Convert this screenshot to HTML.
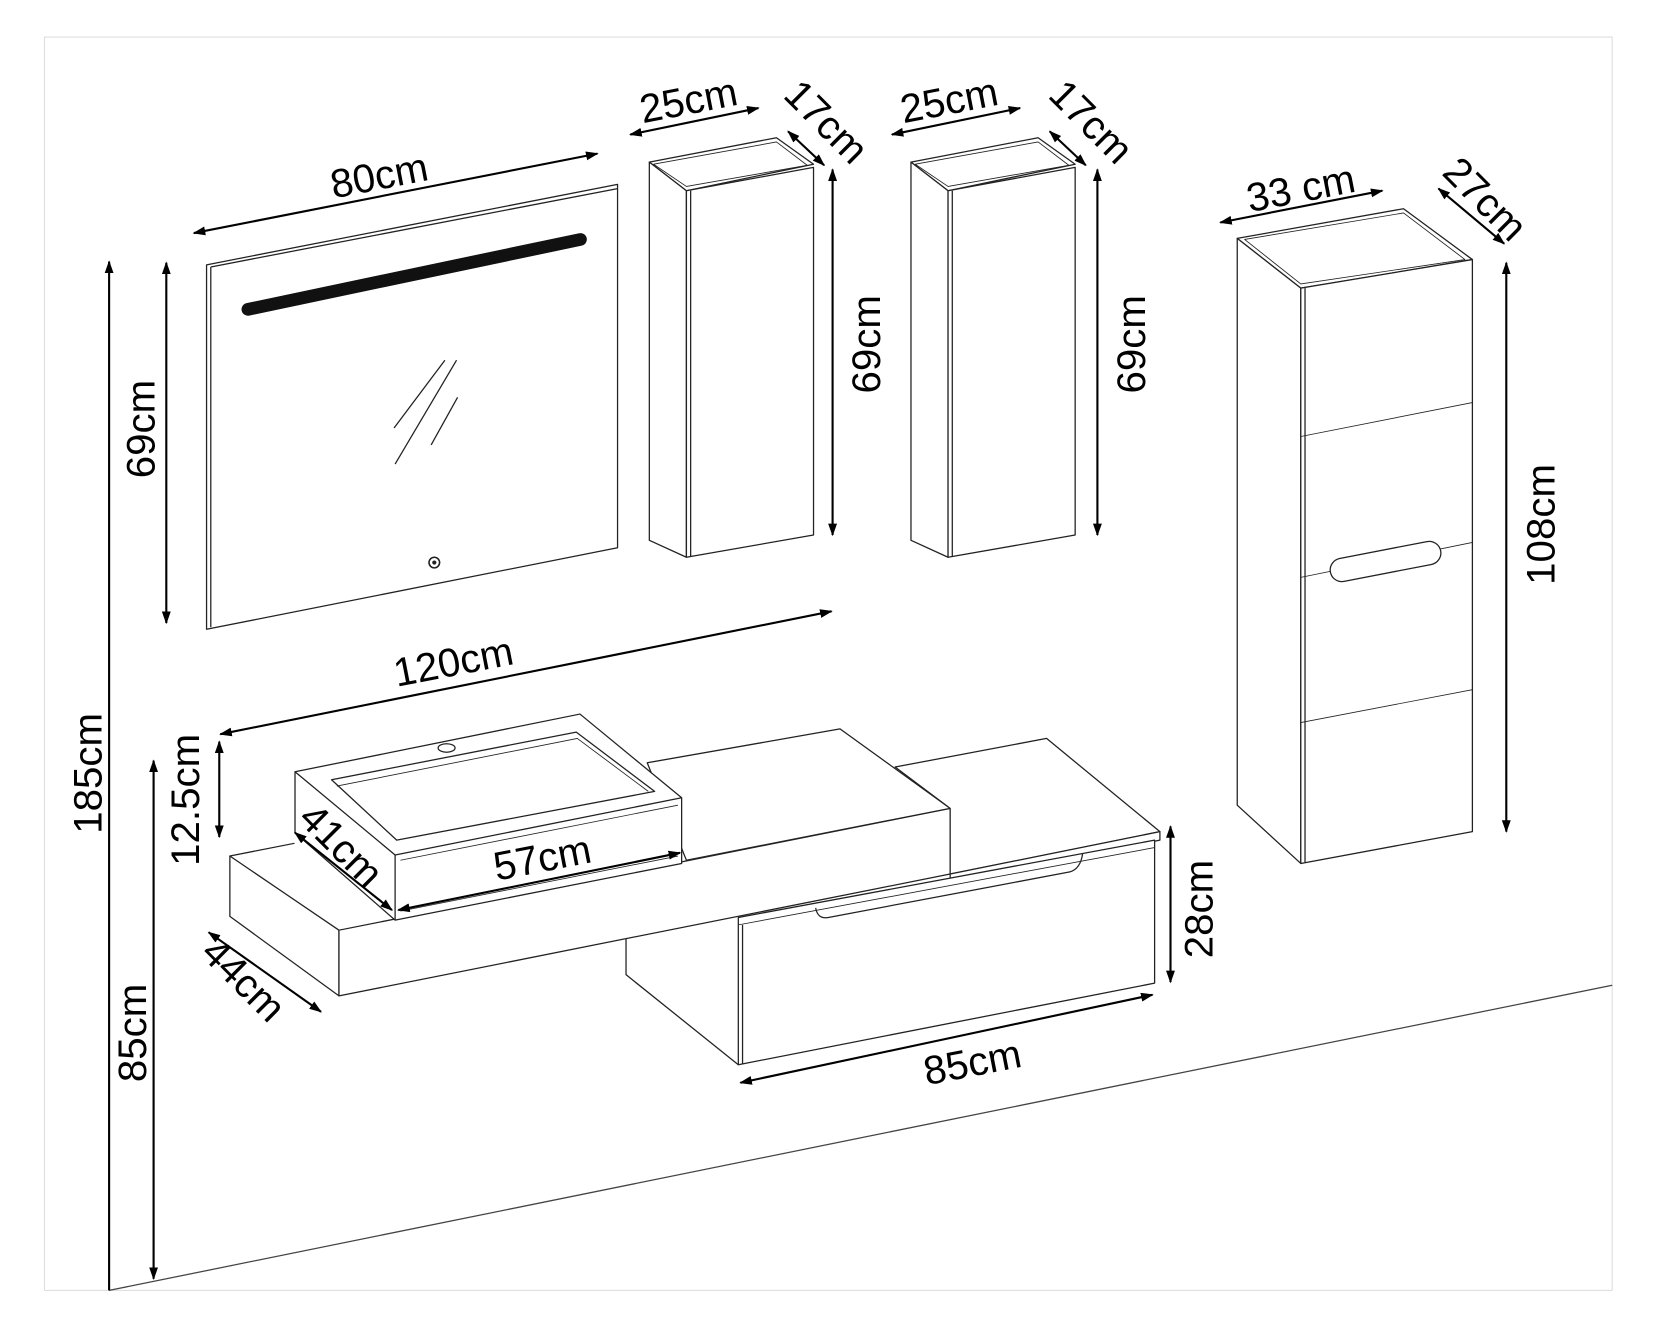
<!DOCTYPE html>
<html><head><meta charset="utf-8"><style>
html,body{margin:0;padding:0;background:#fff;}
svg{display:block}
text{font-family:"Liberation Sans",sans-serif;font-size:38px;fill:#000;}
</style></head><body>
<svg width="1653" height="1319" viewBox="0 0 1560.5 1245" preserveAspectRatio="none" xmlns="http://www.w3.org/2000/svg">
<defs>
<marker id="a" viewBox="0 0 10 10" refX="9" refY="5" markerWidth="6" markerHeight="6" orient="auto-start-reverse"><path d="M0,1.5 L10,5 L0,8.5z" fill="#000"/></marker>
</defs>
<rect x="42" y="35" width="1480" height="1183" fill="none" stroke="#ddd" stroke-width="1"/>
<line x1="103" y1="1218" x2="1522" y2="930" stroke="#444" stroke-width="1.2"/>

<g fill="none" stroke="#000" stroke-width="2" marker-start="url(#a)" marker-end="url(#a)">
<line x1="103" y1="1218" x2="103" y2="247" marker-start="none"/>
<line x1="145" y1="1207" x2="145" y2="718"/>
<line x1="157" y1="588" x2="157" y2="248"/>
<line x1="183" y1="220" x2="564" y2="145"/>
<line x1="595" y1="127" x2="716" y2="102"/>
<line x1="744" y1="124" x2="778" y2="156"/>
<line x1="786" y1="160" x2="786" y2="505"/>
<line x1="842" y1="127" x2="963" y2="102"/>
<line x1="991" y1="124" x2="1025" y2="156"/>
<line x1="1036" y1="160" x2="1036" y2="505"/>
<line x1="1152" y1="210" x2="1305" y2="180"/>
<line x1="1358" y1="178" x2="1420" y2="230"/>
<line x1="1422" y1="248" x2="1422" y2="785"/>
<line x1="208" y1="693" x2="785" y2="577"/>
<line x1="207" y1="700" x2="207" y2="790"/>
<line x1="197" y1="880" x2="303" y2="955"/>
<line x1="1105" y1="780" x2="1105" y2="927"/>
<line x1="699" y1="1022" x2="1088" y2="939"/>
</g>

<g fill="#fff" stroke="#222" stroke-width="1.2" stroke-linejoin="round">
<!-- mirror -->
<polygon points="195,250 583,174 583,517 195,594"/>
<polyline points="199,252 583,178" fill="none"/>
<polyline points="199,252 199,592" fill="none"/>
<!-- wall cab 1 -->
<polygon points="613,153 733,130 768,155 648,180"/>
<polygon points="617,155 733,134 762,156 648,176" fill="none" stroke-width="0.8"/>
<polygon points="613,153 648,180 648,526 613,510"/>
<polygon points="648,180 768,158 768,505 648,526"/>
<line x1="652" y1="180" x2="652" y2="525"/>
<!-- wall cab 2 -->
<polygon points="860,153 980,130 1015,155 895,180"/>
<polygon points="864,155 980,134 1009,156 895,176" fill="none" stroke-width="0.8"/>
<polygon points="860,153 895,180 895,526 860,510"/>
<polygon points="895,180 1015,158 1015,505 895,526"/>
<line x1="899" y1="180" x2="899" y2="525"/>
<!-- tall cab -->
<polygon points="1168,225 1325,197 1390,245 1228,272"/>
<polygon points="1175,226 1325,201 1383,245 1228,268" fill="none" stroke-width="0.8"/>
<polygon points="1168,225 1228,272 1228,815 1168,760"/>
<polygon points="1228,272 1390,245 1390,785 1228,815"/>
<line x1="1232" y1="272" x2="1232" y2="814"/>
<line x1="1228" y1="412" x2="1390" y2="380" stroke-width="0.8"/>
<line x1="1228" y1="545" x2="1390" y2="512" stroke-width="0.8"/>
<line x1="1228" y1="682" x2="1390" y2="651" stroke-width="0.8"/>
<rect x="1255" y="519" width="106" height="22" rx="11" transform="rotate(-11 1308 530)"/>

<!-- back box under slab -->
<polyline points="591,886 591,920 697,1005" fill="none"/>
<!-- slab -->
<polygon points="217,808 320,878 320,940 217,865"/>
<polygon points="320,878 897,763 897,825 320,940"/>
<polyline points="217,808 278,796" fill="none"/>
<!-- raised block -->
<polygon points="611,720 793,688 897,763 648,812"/>
<!-- right slab top -->
<polygon points="845,724 988,697 1095,785 897,825 897,763"/>
<polygon points="897,825 1095,785 1095,793 897,833" />
<!-- drawer unit -->
<polygon points="697,866 1090,793 1090,928 697,1005"/>
<line x1="697" y1="873" x2="1090" y2="800" stroke-width="0.8"/>
<line x1="701" y1="873" x2="701" y2="1004"/>
<path d="M770,857 Q772,868 782,866 L1010,823 Q1020,820 1022,806" fill="none"/>
<!-- sink -->
<polygon points="278.5,728.5 547.5,674 643.5,753 643.5,815 373,868.5 278.5,786"/>
<line x1="373" y1="807" x2="643.5" y2="753"/>
<line x1="373" y1="807" x2="373" y2="868.5"/>
<line x1="278.5" y1="728.5" x2="373" y2="807"/>
<line x1="378" y1="812" x2="640" y2="760" stroke-width="0.8"/>
<line x1="378" y1="860" x2="640" y2="808" stroke-width="0.8"/>
<polygon points="313,736 544,691 618,747 374.5,793"/>
<polyline points="318,742 545,697 612,747" fill="none" stroke-width="0.8"/>
<ellipse cx="421.6" cy="706" rx="8" ry="4"/>
</g>

<g fill="none" stroke="#000" stroke-width="2" marker-start="url(#a)" marker-end="url(#a)">
<line x1="278.5" y1="786" x2="370" y2="859"/>
<line x1="376" y1="859" x2="642" y2="805"/>
</g>

<line x1="234" y1="292" x2="548" y2="226" stroke="#111" stroke-width="12" stroke-linecap="round"/>
<g stroke="#222" stroke-width="1.2">
<line x1="372" y1="404" x2="420" y2="340"/>
<line x1="373" y1="438" x2="431" y2="340"/>
<line x1="407" y1="420" x2="432" y2="375"/>
</g>
<circle cx="410" cy="531" r="5" fill="#fff" stroke="#222" stroke-width="1.5"/>
<circle cx="410" cy="531" r="2" fill="#222"/>

<g text-anchor="middle" dominant-baseline="central">
<text transform="translate(358,166) rotate(-11)">80cm</text>
<text transform="translate(650,95) rotate(-11)">25cm</text>
<text transform="translate(780,115) rotate(45)">17cm</text>
<text transform="translate(818,325) rotate(-90)">69cm</text>
<text transform="translate(896,95) rotate(-11)">25cm</text>
<text transform="translate(1030,115) rotate(45)">17cm</text>
<text transform="translate(1068,325) rotate(-90)">69cm</text>
<text transform="translate(133,405) rotate(-90)">69cm</text>
<text transform="translate(1228,178) rotate(-11)">33 cm</text>
<text transform="translate(1402,188) rotate(45)">27cm</text>
<text transform="translate(1455,495) rotate(-90)">108cm</text>
<text transform="translate(428,625) rotate(-11)">120cm</text>
<text transform="translate(175,755) rotate(-90)">12.5cm</text>
<text transform="translate(83,730) rotate(-90)">185cm</text>
<text transform="translate(125,975) rotate(-90)">85cm</text>
<text transform="translate(230,925) rotate(45)">44cm</text>
<text transform="translate(322,798) rotate(45)">41cm</text>
<text transform="translate(512,810) rotate(-11)">57cm</text>
<text transform="translate(1132,858) rotate(-90)">28cm</text>
<text transform="translate(918,1003) rotate(-11)">85cm</text>
</g>
</svg>
</body></html>
